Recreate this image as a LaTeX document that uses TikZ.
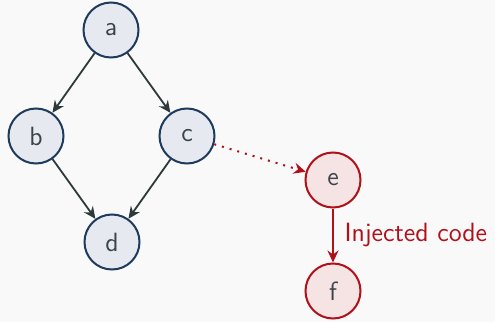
\documentclass[tikz,border=0pt]{standalone}
\usetikzlibrary{arrows.meta}
\definecolor{bgcol}{HTML}{F9F9F9}
\definecolor{nodefill}{HTML}{E6EAF0}
\definecolor{nodedraw}{HTML}{1E3A5C}
\definecolor{edgecol}{HTML}{2E3A3A}
\definecolor{injred}{HTML}{B0101A}
\definecolor{injfill}{HTML}{F6E4E4}
\definecolor{txtcol}{HTML}{3A4448}
\tikzset{
  vertex/.style={circle, draw=nodedraw, fill=nodefill, line width=1pt,
    minimum size=27.5pt, inner sep=0pt, text=txtcol,
    font=\sffamily\fontsize{13.2}{16}\selectfont},
  injvertex/.style={vertex, draw=injred, fill=injfill},
  edge/.style={draw=edgecol, line width=0.9pt, -{Stealth[length=6pt, width=5.5pt, inset=2pt]}},
  injedge/.style={draw=injred, line width=0.9pt, -{Stealth[length=6pt, width=5.5pt, inset=2pt]}},
}
\begin{document}
\begin{tikzpicture}[x=0.5pt, y=-0.5pt]
  \fill[bgcol] (0,0) rectangle (495,322);
  \useasboundingbox (0,0) rectangle (495,322);
  \node[vertex] (a) at (111,30) {a};
  \node[vertex] (b) at (36,136) {b};
  \node[vertex] (c) at (187,136) {c};
  \node[vertex] (d) at (112,242) {d};
  \node[injvertex] (e) at (333,180) {e};
  \node[injvertex] (f) at (333,291) {f};
  \draw[edge] (a) -- (b);
  \draw[edge] (a) -- (c);
  \draw[edge] (b) -- (d);
  \draw[edge] (c) -- (d);
  \draw[injedge, line width=1pt, dash pattern=on 1pt off 3pt] (c) -- (e);
  \draw[injedge] (e) -- (f) node[midway, right=2pt, text=injred,
    font=\sffamily\fontsize{13.2}{16}\selectfont] (lbl) {Injected code};
\end{tikzpicture}
\end{document}
